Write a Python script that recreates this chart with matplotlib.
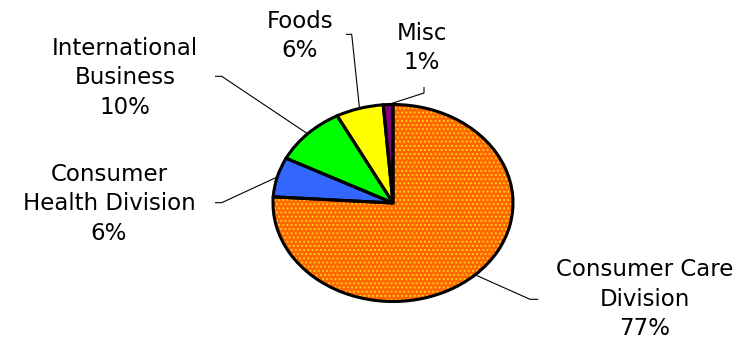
import numpy as np
import matplotlib
matplotlib.use("Agg")
import matplotlib.pyplot as plt

# ---- data ----
categories = ["Consumer Care\nDivision", "Consumer\nHealth Division",
              "International\nBusiness", "Foods", "Misc"]
values = [76.0, 6.5, 9.8, 6.4, 1.3]
pct_labels = ["77%", "6%", "10%", "6%", "1%"]
colors = ["#FF6600", "#3366FF", "#00FF00", "#FFFF00", "#800080"]

W, H, DPI = 749, 345, 100
plt.rcParams["font.family"] = ["DejaVu Sans"]
plt.rcParams["hatch.linewidth"] = 0.9

fig = plt.figure(figsize=(W / DPI, H / DPI), dpi=DPI)
ax = fig.add_axes([0, 0, 1, 1])

# pie geometry in pixels
CX, CY, RX, RY = 393.0, 203.0, 120.0, 98.5
ax.set_xlim(-CX / RX, (W - CX) / RX)
ax.set_ylim(-(H - CY) / RY, CY / RY)
ax.set_aspect("auto")
ax.axis("off")


def px(x, y):
    return ((x - CX) / RX, (CY - y) / RY)


# fill + dotted pattern layer
w1, _ = ax.pie(values, colors=colors, startangle=90, counterclock=False,
               wedgeprops=dict(linewidth=0, edgecolor="#FFD21A"))
w1[0].set_hatch("....")
for w in w1[1:]:
    w.set_edgecolor(w.get_facecolor())
# outline layer
w2, _ = ax.pie(values, colors=["none"] * len(values), startangle=90,
               counterclock=False,
               wedgeprops=dict(linewidth=2.2, edgecolor="black",
                               joinstyle="miter"))
ax.set_xlim(-CX / RX, (W - CX) / RX)
ax.set_ylim(-(H - CY) / RY, CY / RY)
ax.set_aspect("auto")

# label layout (pixels): text center, leader-line elbow points
text_pos = [(645, 299), (109, 204), (125, 78), (300, 36), (422, 48)]
leader_pts = [
    [(538.3, 299.3), (530, 299.3)],
    [(215, 202.7), (221.7, 202.7)],
    [(215, 76.3), (221.7, 76.3)],
    [(345.7, 34.3), (351.7, 34.3)],
    [(424, 87), (424, 93)],
]

for i, w in enumerate(w1):
    mid = np.deg2rad((w.theta1 + w.theta2) / 2)
    ex, ey = np.cos(mid), np.sin(mid)
    pts = [px(*p) for p in leader_pts[i]] + [(ex, ey)]
    xs, ys = zip(*pts)
    ax.plot(xs, ys, color="black", lw=0.8, solid_capstyle="butt")
    tx, ty = px(*text_pos[i])
    ax.text(tx, ty, categories[i] + "\n" + pct_labels[i], ha="center",
            va="center", fontsize=16.5, linespacing=1.38, color="black")

fig.savefig("out.png", dpi=DPI)
